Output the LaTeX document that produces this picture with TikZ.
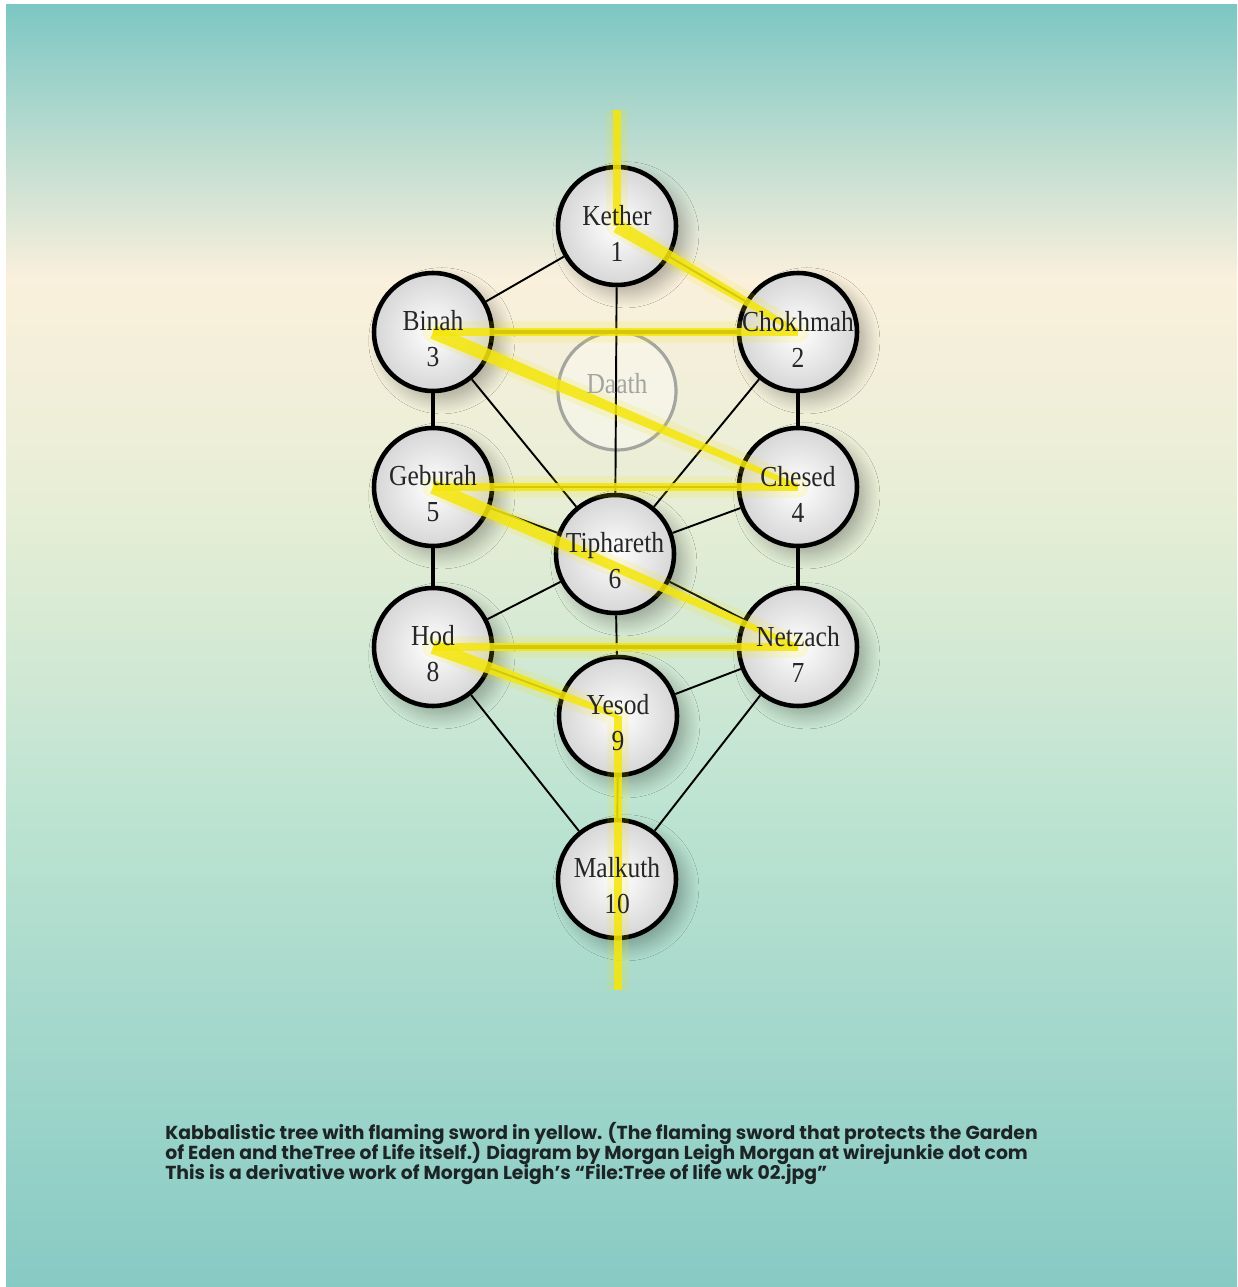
\documentclass[tikz,border=0pt]{standalone}
\usepackage{fontspec}
\setmainfont{Liberation Serif}
\newfontfamily\sephfont{Liberation Serif}[FakeStretch=0.88]
\newfontfamily\captionfont{Poppins}
\usepackage{tikz}
\usetikzlibrary{positioning, calc, shadows.blur}
\definecolor{skyteal}{RGB}{124,199,195}
\definecolor{cream}{RGB}{250,240,220}
\definecolor{palegreen}{RGB}{232,238,214}
\definecolor{mint}{RGB}{190,228,210}
\definecolor{deepteal}{RGB}{135,202,196}
\definecolor{swordyellow}{RGB}{244,230,10}
\definecolor{daathgray}{RGB}{165,165,160}
\definecolor{captionink}{RGB}{28,36,38}
\newcommand{\tightlines}{\lineskiplimit=-20pt\relax\lineskip=0pt\relax}

\tikzset{
  sephira/.style={circle, draw=black, line width=2.6pt, minimum size=2.36cm, inner sep=0pt,
    inner color=white, outer color=black!16,
    blur shadow={shadow xshift=5pt, shadow yshift=-5pt, shadow blur radius=8pt,
      shadow blur steps=14, shadow opacity=30}},
  daathring/.style={circle, draw=daathgray, line width=1.8pt, minimum size=2.36cm, inner sep=0pt,
    fill=white, fill opacity=0.35},
  sephiralabel/.style={align=center, font=\sephfont\fontsize{16.5}{20.5}\selectfont,
    text=black!85, yshift=-4pt},
  channel/.style={line width=1.1pt},
  pillar/.style={line width=2.2pt},
  swordline/.style={draw=swordyellow, line width=4pt, opacity=0.85},
  swordwedge/.style={fill=swordyellow, opacity=0.85},
  swordglow/.style={draw=swordyellow, line width=12pt, opacity=0.15, line join=round},
  caption/.style={align=left, inner sep=0pt, text=captionink,
    font=\captionfont\bfseries\fontsize{10.7}{11.3}\selectfont\tightlines}
}

\newcommand{\flame}[2]{%
  \fill[swordwedge] ($(#1.center)!4pt!90:(#2.center)$) -- ($(#2.center)!1.5pt!-90:(#1.center)$)
    -- ($(#2.center)!1.5pt!90:(#1.center)$) -- ($(#1.center)!4pt!-90:(#2.center)$) -- cycle;}

\begin{document}
\begin{tikzpicture}[x=0.02cm, y=-0.02cm]
  \useasboundingbox (0,0) rectangle (1237,1287);
  \fill[white] (0,0) rectangle (1237,1287);
  \shade[top color=skyteal, bottom color=cream] (6,5) rectangle (1237,280);
  \shade[top color=cream, bottom color=palegreen] (6,279.5) rectangle (1237,500);
  \shade[top color=palegreen, bottom color=mint] (6,499.5) rectangle (1237,800);
  \shade[top color=mint, bottom color=deepteal] (6,799.5) rectangle (1237,1286);

  \node[daathring] (daath) at (617,391) {};

  \node[sephira] (kether) at (617,226) {};
  \node[sephira] (binah) at (433,332) {};
  \node[sephira] (chokhmah) at (798,332) {};
  \node[sephira] (geburah) at (433,487) {};
  \node[sephira] (chesed) at (798,487) {};
  \node[sephira] (tiphareth) at (615,554) {};
  \node[sephira] (hod) at (433,647) {};
  \node[sephira] (netzach) at (798,647) {};
  \node[sephira] (yesod) at (618,716) {};
  \node[sephira] (malkuth) at (617,879) {};

  \draw[channel] (kether) -- (binah);
  \draw[channel] (kether) -- (chokhmah);
  \draw[channel] (kether) -- (tiphareth);
  \draw[channel] (binah) -- (tiphareth);
  \draw[channel] (chokhmah) -- (tiphareth);
  \draw[channel] (geburah) -- (tiphareth);
  \draw[channel] (chesed) -- (tiphareth);
  \draw[channel] (geburah) -- (chesed);
  \draw[channel] (tiphareth) -- (hod);
  \draw[channel] (tiphareth) -- (netzach);
  \draw[channel] (tiphareth) -- (yesod);
  \draw[channel] (hod) -- (yesod);
  \draw[channel] (netzach) -- (yesod);
  \draw[channel] (hod) -- (malkuth);
  \draw[channel] (netzach) -- (malkuth);
  \draw[channel] (yesod) -- (malkuth);
  \draw[pillar] (binah) -- (chokhmah);
  \draw[pillar] (binah) -- (geburah);
  \draw[pillar] (chokhmah) -- (chesed);
  \draw[pillar] (geburah) -- (hod);
  \draw[pillar] (chesed) -- (netzach);
  \draw[pillar] (hod) -- (netzach);

  \coordinate (swordtop) at (617,110);
  \coordinate (swordtip) at (618,990);
  \draw[swordglow] (swordtop) -- (kether.center) -- (chokhmah.center) -- (binah.center)
    -- (chesed.center) -- (geburah.center) -- (netzach.center) -- (hod.center)
    -- (yesod.center) -- (swordtip);
  \draw[swordline] (swordtop) -- (kether.center);
  \flame{kether}{chokhmah}
  \draw[swordline] (chokhmah.center) -- (binah.center);
  \flame{binah}{chesed}
  \draw[swordline] (chesed.center) -- (geburah.center);
  \flame{geburah}{netzach}
  \draw[swordline] (netzach.center) -- (hod.center);
  \flame{hod}{yesod}
  \draw[swordline] (yesod.center) -- (swordtip);

  \node[sephiralabel, text=daathgray, yshift=8pt] (daath-l) at (daath) {Daath};
  \node[sephiralabel] (kether-l) at (kether) {Kether\\1};
  \node[sephiralabel] (binah-l) at (binah) {Binah\\3};
  \node[sephiralabel] (chokhmah-l) at (chokhmah) {Chokhmah\\2};
  \node[sephiralabel] (geburah-l) at (geburah) {Geburah\\5};
  \node[sephiralabel] (chesed-l) at (chesed) {Chesed\\4};
  \node[sephiralabel] (tiphareth-l) at (tiphareth) {Tiphareth\\6};
  \node[sephiralabel] (hod-l) at (hod) {Hod\\8};
  \node[sephiralabel] (netzach-l) at (netzach) {Netzach\\7};
  \node[sephiralabel] (yesod-l) at (yesod) {Yesod\\9};
  \node[sephiralabel] (malkuth-l) at (malkuth) {Malkuth\\10};

  \node[caption, anchor=north west] (note) at (165,1122) {Kabbalistic tree with flaming sword in yellow. (The flaming sword that protects the Garden\\of Eden and theTree of Life itself.) Diagram by Morgan Leigh Morgan at wirejunkie dot com\\This is a derivative work of Morgan Leigh’s “File:Tree of life wk 02.jpg”};
\end{tikzpicture}
\end{document}
